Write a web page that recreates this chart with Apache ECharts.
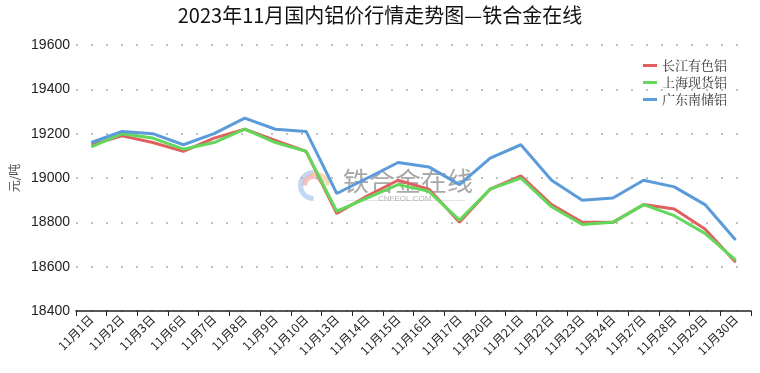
<!DOCTYPE html>
<html><head><meta charset="utf-8">
<script src="https://cdn.jsdelivr.net/npm/echarts@6/dist/echarts.min.js"></script>
<style>html,body{margin:0;padding:0;background:#fff}#c{width:760px;height:373px}</style>
</head><body><div id="c"></div>
<script>
const categories = ['11月1日','11月2日','11月3日','11月6日','11月7日','11月8日','11月9日','11月10日','11月13日','11月14日','11月15日','11月16日','11月17日','11月20日','11月21日','11月22日','11月23日','11月24日','11月27日','11月28日','11月29日','11月30日'];
const changjiang = [19150,19190,19160,19120,19180,19220,19170,19120,18840,18920,18990,18950,18800,18950,19010,18880,18800,18800,18880,18860,18770,18620];
const shanghai   = [19140,19200,19180,19130,19160,19220,19160,19120,18850,18910,18970,18940,18810,18950,19000,18870,18790,18800,18880,18830,18750,18630];
const guangdong  = [19160,19210,19200,19150,19200,19270,19220,19210,18930,19000,19070,19050,18970,19090,19150,18990,18900,18910,18990,18960,18880,18720];
const seriesNames = ['长江有色铝','上海现货铝','广东南储铝'];
const colors = ['#e06060','#62d85a','#5b9bd9'];

const chart = echarts.init(document.getElementById('c'));
chart.setOption({
  animation:false,
  color: colors,
  title:{text:'2023年11月国内铝价行情走势图—铁合金在线',left:'center',top:0,
    textStyle:{fontFamily:'Noto Sans CJK SC',fontSize:20,fontWeight:'normal',color:'#111'}},
  legend:{orient:'vertical',right:28,top:54,itemGap:4,itemWidth:14,itemHeight:10,
    icon:'path://M0,4 L14,4 L14,7 L0,7 Z',
    textStyle:{fontFamily:'Noto Serif CJK SC, Noto Sans CJK SC',fontSize:13,color:'#333'},
    data:seriesNames},
  grid:{left:71,right:9,top:45,bottom:62},
  xAxis:{type:'category',data:categories,boundaryGap:true,
    axisLine:{lineStyle:{color:'#222',width:1.5}},
    axisTick:{show:true,length:5,lineStyle:{color:'#222'}},
    axisLabel:{rotate:45,fontSize:12,color:'#222',fontFamily:'Noto Sans CJK SC',interval:0,margin:6}},
  yAxis:{type:'value',min:18400,max:19600,interval:200,
    name:'元/吨',nameLocation:'middle',nameGap:56,nameRotate:90,
    nameTextStyle:{fontFamily:'Noto Sans CJK SC',fontSize:12,color:'#555'},
    axisLine:{show:false},axisTick:{show:false},
    axisLabel:{fontSize:14,color:'#222',fontFamily:'Liberation Sans',margin:6,formatter:v=>String(v)},
    splitLine:{lineStyle:{type:[2,13],color:'#aaa',width:1.5}}},
  series: seriesNames.map((n,i)=>({name:n,type:'line',data:[changjiang,shanghai,guangdong][i],
    showSymbol:false,lineStyle:{width:3},z:2+i})),
  graphic:[
    {type:'group',left:298,top:170,silent:true,children:[
      {type:'arc',shape:{cx:16,cy:16,r:13,startAngle:Math.PI*0.5,endAngle:Math.PI*1.5},style:{stroke:'#a8c8ec',lineWidth:5,fill:null,opacity:0.7}},
      {type:'arc',shape:{cx:16,cy:16,r:9,startAngle:Math.PI*1.0,endAngle:Math.PI*1.9},style:{stroke:'#f0a8a8',lineWidth:5,fill:null,opacity:0.7}},
      {type:'arc',shape:{cx:18,cy:16,r:12,startAngle:Math.PI*1.4,endAngle:Math.PI*2.0},style:{stroke:'#f5c89a',lineWidth:4,fill:null,opacity:0.7}}
    ]},
    {type:'text',left:343,top:168,silent:true,style:{text:'铁合金在线',fontFamily:'Noto Sans CJK SC',fontSize:26,fill:'rgba(110,110,110,0.6)'}},
    {type:'text',left:378,top:195,silent:true,style:{text:'CNFEOL.COM',fontFamily:'Liberation Sans',fontSize:8,fill:'rgba(130,130,130,0.6)'}},
    {type:'rect',left:345,top:200,silent:true,shape:{width:120,height:0.6},style:{fill:'rgba(150,150,150,0.5)'}}
  ]
});
</script></body></html>
